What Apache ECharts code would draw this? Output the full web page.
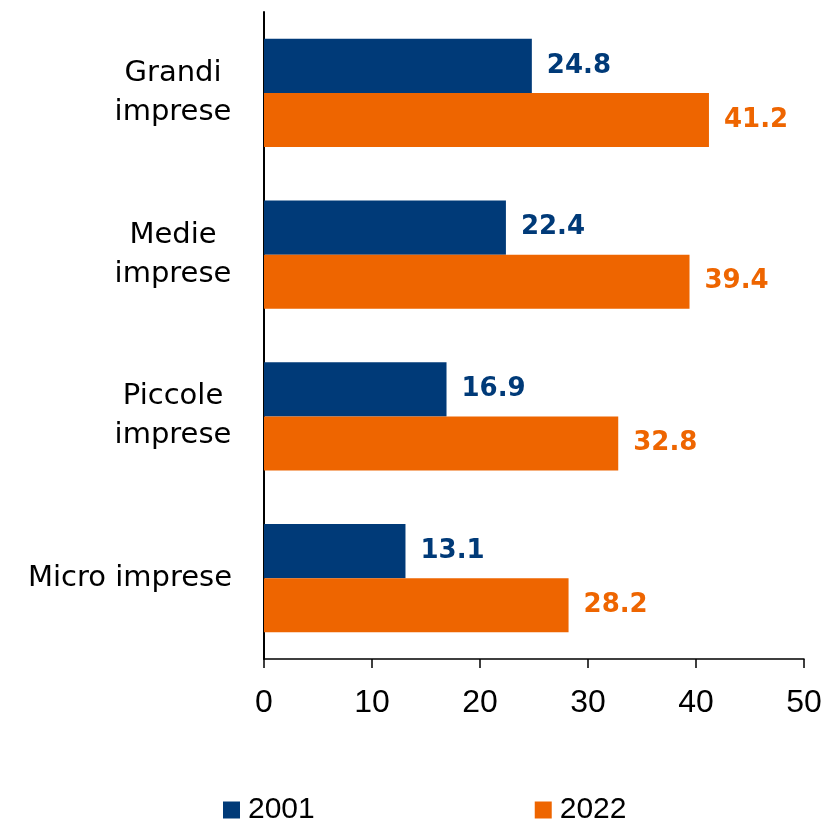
<!DOCTYPE html>
<html>
<head>
<meta charset="utf-8">
<script src="https://cdn.jsdelivr.net/npm/echarts@6/dist/echarts.min.js"></script>
<style>html,body{margin:0;padding:0;background:#fff}#c{width:827px;height:822px}</style>
</head>
<body>
<div id="c"></div>
<script>
const categories = ['Grandi\nimprese', 'Medie\nimprese', 'Piccole\nimprese', 'Micro imprese'];
const series2001 = [24.8, 22.4, 16.9, 13.1];
const series2022 = [41.2, 39.4, 32.8, 28.2];
const xTicks = [0, 10, 20, 30, 40, 50];
const seriesNames = ['2001', '2022'];

const FONT = 'DejaVu Sans';
const NUMFONT = 'Liberation Sans';
const chart = echarts.init(document.getElementById('c'));
chart.setOption({
  animation: false,
  textStyle: { fontFamily: FONT },
  grid: { left: 264, right: 23, top: 12, bottom: 163, containLabel: false },
  legend: {
    left: 223, top: 795, padding: 0,
    itemWidth: 17, itemHeight: 17, itemGap: 220,
    icon: 'rect',
    textStyle: { fontSize: 30, color: '#000', fontFamily: NUMFONT, padding: [0, 0, 0, 3] },
    data: seriesNames
  },
  xAxis: {
    type: 'value', min: xTicks[0], max: xTicks[xTicks.length-1], interval: 10,
    axisLine: { show: true, lineStyle: { color: '#000', width: 1.5 } },
    axisTick: { show: true, length: 9, lineStyle: { color: '#000', width: 1.5 } },
    axisLabel: { fontSize: 32, color: '#000', margin: 28, fontFamily: NUMFONT },
    splitLine: { show: false }
  },
  yAxis: {
    type: 'category', inverse: true, data: categories,
    axisLine: { show: true, lineStyle: { color: '#000', width: 2 } },
    axisTick: { show: false },
    axisLabel: {
      fontSize: 29, color: '#000', margin: 32, fontFamily: FONT, lineHeight: 39,
      formatter: function (v) {
        if (v.indexOf('\n') >= 0) return v.split('\n').map(s => '{c|' + s + '}').join('\n');
        return v;
      },
      rich: { c: { width: 118, align: 'center', fontSize: 29, lineHeight: 39, color: '#000', fontFamily: FONT } }
    }
  },
  series: [
    {
      name: seriesNames[0], type: 'bar', data: series2001,
      barGap: '0%', barCategoryGap: '33%',
      itemStyle: { color: '#003A78' },
      label: { show: true, position: 'right', distance: 15, color: '#003A78', fontSize: 26, fontWeight: 'bold', fontFamily: FONT }
    },
    {
      name: seriesNames[1], type: 'bar', data: series2022,
      barGap: '0%', barCategoryGap: '33%',
      itemStyle: { color: '#EE6500' },
      label: { show: true, position: 'right', distance: 15, color: '#EE6500', fontSize: 26, fontWeight: 'bold', fontFamily: FONT }
    }
  ]
});
</script>
</body>
</html>
